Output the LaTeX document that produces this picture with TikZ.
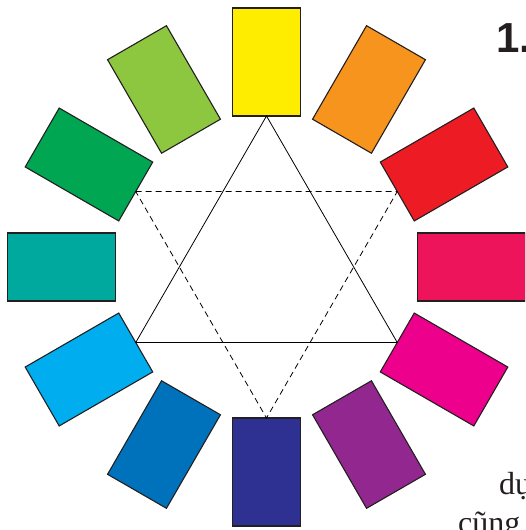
\documentclass[tikz,border=0pt]{standalone}
\usepackage{fontspec}
\usetikzlibrary{calc}
\newfontfamily\headfont{Liberation Sans}
\newfontfamily\bodyfont{Liberation Serif}
\definecolor{cY}{HTML}{FFED00}
\definecolor{cYO}{HTML}{F7941D}
\definecolor{cR}{HTML}{ED1C24}
\definecolor{cRM}{HTML}{ED145B}
\definecolor{cM}{HTML}{EC008C}
\definecolor{cP}{HTML}{92278F}
\definecolor{cB}{HTML}{2E3192}
\definecolor{cBl}{HTML}{0072BC}
\definecolor{cC}{HTML}{00AEEF}
\definecolor{cT}{HTML}{00A99D}
\definecolor{cG}{HTML}{00A651}
\definecolor{cYG}{HTML}{8DC63F}
\definecolor{edge}{HTML}{231F20}
\tikzset{
  swatch/.style={draw=edge, line width=1.1pt, minimum width=108pt, minimum height=68pt, inner sep=0pt, outer sep=0pt, rectangle},
  tri/.style={draw=black, line width=0.8pt},
  dtri/.style={draw=black, line width=0.8pt, dash pattern=on 6pt off 4pt},
}
\begin{document}
\begin{tikzpicture}[x=1pt,y=1pt]
\clip (0,0) rectangle (525,530);
\useasboundingbox (0,0) rectangle (525,530);
\coordinate (O) at (266.5,263);
\foreach \a/\c/\n in {90/cY/r90, 60/cYO/r60, 30/cR/r30, 0/cRM/r0, -30/cM/rm30, -60/cP/rm60, -90/cB/rm90, -120/cBl/rm120, -150/cC/rm150, 180/cT/r180, 150/cG/r150, 120/cYG/r120}{
  \node[swatch, fill=\c, rotate=\a] (\n) at ($(O)+(\a:205)$) {};
}
\draw[tri] (r90.west) -- (rm150.west) -- (rm30.west) -- cycle;
\draw[dtri] (r150.west) -- (r30.west) -- (rm90.west) -- cycle;
\node[anchor=base west, inner sep=0pt, font=\headfont\bfseries\fontsize{42}{46}\selectfont, text=edge] (num) at (496,477) {1.};
\node[anchor=base west, inner sep=0pt, font=\bodyfont\fontsize{32}{38}\selectfont, text=edge] (t1) at (499,35) {dự};
\node[anchor=base west, inner sep=0pt, font=\bodyfont\fontsize{32}{38}\selectfont, text=edge] (t2) at (458,-4) {cũng};
\end{tikzpicture}
\end{document}
